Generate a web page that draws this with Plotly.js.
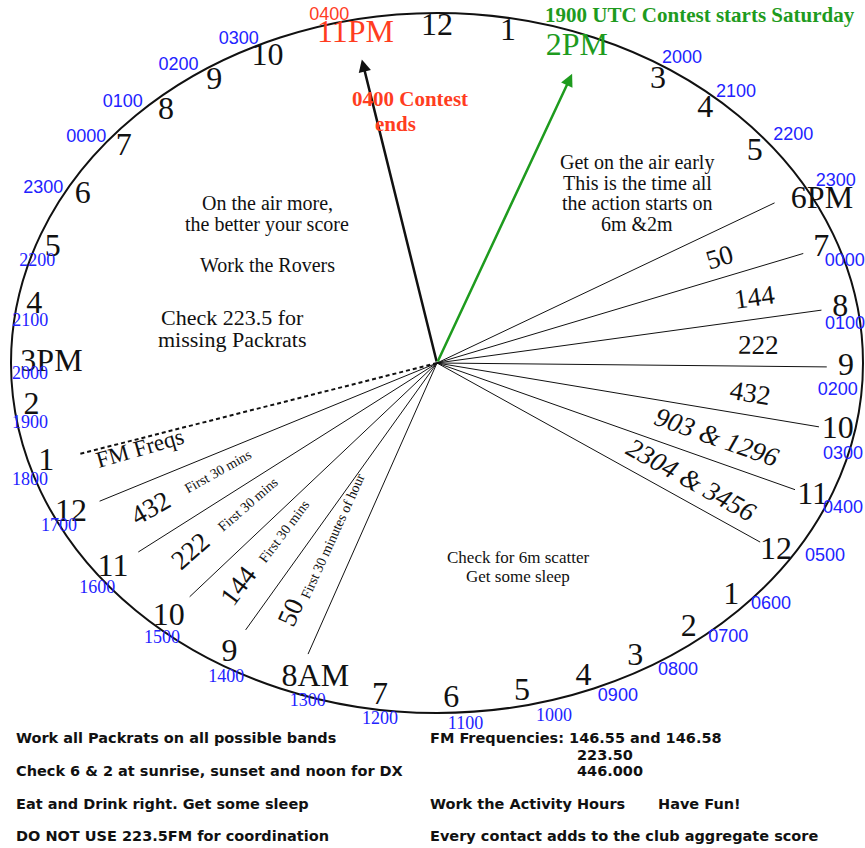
<!DOCTYPE html>
<html><head><meta charset="utf-8">
<script src="https://cdn.plot.ly/plotly-3.0.1.min.js"></script>
<style>html,body{margin:0;padding:0;background:#fff}</style>
</head><body><div id="chart" style="width:865px;height:848px"></div>
<script>
// ---------------- data ----------------
const hourIndex = [0,1,2,3,4,5,6,7,8,9,10,11,12,13,14,15,16,17,18,19,20,21,22,23,24,25,26,27,28,29,30,31,32,33,34,35];
const hourLabels = ['12','1','2PM','3','4','5','6PM','7','8','9','10','11','12','1','2','3','4','5','6','7','8AM','9','10','11','12','1','2','3PM','4','5','6','7','8','9','10','11PM'];
const utcLabels = [null,null,null,'2000','2100','2200','2300','0000','0100','0200','0300','0400','0500','0600','0700','0800','0900','1000','1100','1200','1300','1400','1500','1600','1700','1800','1900','2000','2100','2200','2300','0000','0100','0200','0300','0400'];
const contestStartHour = 2;   // 2PM local = 1900 UTC
const contestEndHour = 35;    // 11PM local = 0400 UTC
const rightBandLines = [6,7,8,9,10,11,12];
const rightBands = ['50','144','222','432','903 & 1296','2304 & 3456'];
const leftBandLines = [20,21,22,23,24];
const leftBands = ['50','144','222','432'];
const leftNotes = ['First 30 minutes of hour','First 30 mins','First 30 mins','First 30 mins'];
const fmLineHour = 25;
const fmLabel = 'FM Freqs';
const startText = '1900 UTC Contest starts Saturday';
const endLines = ['0400 Contest','ends'];
const blockActive = ['On the air more,','the better your score'];
const blockRovers = ['Work the Rovers'];
const blockCheck = ['Check 223.5 for','missing Packrats'];
const blockEarly = ['Get on the air early','This is the time all','the action starts on','6m &2m'];
const blockNight = ['Check for 6m scatter','Get some sleep'];
const notesLeft = ['Work all Packrats on all possible bands','Check 6 & 2 at sunrise, sunset and noon for DX','Eat and Drink right. Get some sleep','DO NOT USE 223.5FM for coordination'];
const notesRight = ['FM Frequencies: 146.55 and 146.58','Work the Activity Hours','Every contact adds to the club aggregate score'];
const fmFreqExtra = ['223.50','446.000'];
const haveFun = 'Have Fun!';

// ---------------- geometry / style (hand-drawn dial calibration) ----------------
const CX = 437, CY = 363, RX = 426, RY = 350;
const SERIF = 'Liberation Serif, Times New Roman, serif';
const SANS = 'Liberation Sans, Arial, sans-serif';
const GREEN = '#1e9b1e', RED = '#ff3d1f', BLUE = '#2222ff', INK = '#111';
const dialNudge = [0,0,0,2.7,1,1,0,0,0.5,0.7,1.5,3.3,4,4,2,1,-1,-2,-2,-2,0,0.5,1,2.4,3.5,2.8,2.6,1,0,0,0,0,-1.5,-3,-4.5,-1.5];
const labelFix = {6:[2.7,1.017], 20:[-2.4,0.944], 27:[0,0.905]};
const utcNudge = [0,0,0,3.5,2.2,2.1,1,3.2,3.5,4.7,5.3,3.6,1.2,1.4,-1.1,-2.8,-4,-5.2,-3.7,-2.5,-2.6,-1.2,-0.6,1.1,2.3,0.7,-0.3,-1.9,-3,-2.9,-1.6,-2,-4.8,-5.5,-6.7,-4.3];
const utcRad = [1,1,1,1.042,1.045,1.06,1.07,1.0,0.964,0.944,0.988,1.04,1.065,1.045,1.04,1.044,1.044,1.048,1.036,1.026,1.015,1.027,1.017,1.025,1.002,1.012,0.971,0.956,0.962,0.982,1.051,1.045,1.047,1.045,1.036,1.025];
function pt(deg, r) { const t = deg*Math.PI/180; return [CX + r*RX*Math.sin(t), CY - r*RY*Math.cos(t)]; }
const dialAngle = i => i*10 + dialNudge[i];
function lineAngle(p) { let a = Math.atan2(p[1]-CY, p[0]-CX)*180/Math.PI; if (a > 90) a -= 180; if (a < -90) a += 180; return a; }

const traces = [];
// band lines
function segs(list, r) { const x=[], y=[]; list.forEach(i => { const p = pt(dialAngle(i), r); x.push(CX, p[0], null); y.push(CY, p[1], null); }); return {x, y}; }
const rs = segs(rightBandLines, 0.915), ls = segs(leftBandLines, 0.885), fs = segs([fmLineHour], 0.88);
traces.push({type:'scatter', mode:'lines', x: rs.x.concat(ls.x), y: rs.y.concat(ls.y), line:{color:INK, width:1}, hoverinfo:'skip'});
traces.push({type:'scatter', mode:'lines', x: fs.x, y: fs.y, line:{color:INK, width:2, dash:'4px,3px'}, hoverinfo:'skip'});

// hour labels
const hx=[], hy=[], hcol=[];
hourIndex.forEach(i => { const f = labelFix[i]; const p = f ? pt(i*10 + f[0], f[1]) : pt(dialAngle(i), 0.96); hx.push(p[0]); hy.push(p[1]);
  hcol.push(i === contestStartHour ? GREEN : i === contestEndHour ? RED : INK); });
traces.push({type:'scatter', mode:'text', x:hx, y:hy, text:hourLabels, textposition:'middle center', textfont:{family:SERIF, size:32, color:hcol}, hoverinfo:'skip'});

// UTC labels
const ux=[], uy=[], ut=[], uc=[], uf=[];
hourIndex.forEach((i,k) => { if (!utcLabels[k]) return; const p = pt(i*10 + utcNudge[i], utcRad[i]); ux.push(p[0]); uy.push(p[1]); ut.push(utcLabels[k]);
  uc.push(i === contestEndHour ? RED : BLUE); uf.push((i >= 17 && i <= 29) ? SERIF : SANS); });
traces.push({type:'scatter', mode:'text', x:ux, y:uy, text:ut, textposition:'middle center', textfont:{family:uf, size:18, color:uc}, hoverinfo:'skip'});

const ann = [];
// arrows
[[contestEndHour, INK],[contestStartHour, GREEN]].forEach(([i,c]) => { const p = pt(dialAngle(i) + (i === contestStartHour ? 1 : 0), 0.885);
  ann.push({x:p[0], y:p[1], xref:'x', yref:'y', ax:CX, ay:CY, axref:'x', ayref:'y', text:'', showarrow:true, arrowhead:2, arrowsize:1, arrowwidth:2.5, arrowcolor:c, standoff:0, startstandoff:0}); });

// right band labels
const rightR = [0.73,0.77,0.756,0.74,0.69,0.684];
rightBands.forEach((t,k) => { const a = (dialAngle(rightBandLines[k]) + dialAngle(rightBandLines[k+1]))/2 + 0.5; const p = pt(a, rightR[k]);
  const rot = lineAngle(pt(dialAngle(rightBandLines[k+1]), 0.9));
  ann.push({x:p[0], y:p[1], xref:'x', yref:'y', text: k >= 4 ? '<i>'+t+'</i>' : t, showarrow:false, textangle: rot, font:{family:SERIF, size:27, color:INK}}); });
// left band labels + notes
leftBands.forEach((t,k) => { const a = (dialAngle(leftBandLines[k]) + dialAngle(leftBandLines[k+1]))/2 + 0.5;
  const p = pt(a, 0.79); const rot = lineAngle(p)*1.1;
  ann.push({x:p[0], y:p[1], xref:'x', yref:'y', text:t, showarrow:false, textangle: rot, font:{family:SERIF, size:27, color:INK}});
  const q = pt(a + 0.5, k === 0 ? 0.55 : 0.6); ann.push({x:q[0], y:q[1], xref:'x', yref:'y', text:leftNotes[k], showarrow:false, textangle: rot, font:{family:SERIF, size:14, color:INK}}); });
{ const p = pt((dialAngle(fmLineHour) + dialAngle(24))/2 + 2.5, 0.74); ann.push({x:p[0], y:p[1], xref:'x', yref:'y', text:fmLabel, showarrow:false, textangle: lineAngle(p), font:{family:SERIF, size:23, color:INK}}); }

// text blocks inside dial (one annotation per line)
function block(x, y0, dy, lines, size, color, bold, xs) {
  lines.forEach((t,k) => ann.push({x: xs ? xs[k] : x, y: y0 + k*dy, xref:'x', yref:'y', text: bold ? '<b>'+t+'</b>' : t, showarrow:false, xanchor:'center', yanchor:'middle', font:{family:SERIF, size, color}}));
}
block(267, 203, 21.5, blockActive, 20, INK);
block(267, 265, 0, blockRovers, 20, INK);
block(232, 317, 22, blockCheck, 22, INK);
block(637, 162, 20.7, blockEarly, 20, INK);
block(518, 557, 19.5, blockNight, 17, INK);
block(409, 99, 25, endLines, 21, RED, true, [410, 395]);
ann.push({x:543, y:15, xref:'x', yref:'y', text:'<b>'+startText+'</b>', showarrow:false, xanchor:'left', yanchor:'middle', font:{family:SERIF, size:21, color:GREEN}});

// bottom notes
const rowsY = [738, 771, 804, 836];
function note(x, y, t) { ann.push({x, y, xref:'x', yref:'y', text:'<b>'+t+'</b>', showarrow:false, xanchor:'left', yanchor:'middle', font:{family:'DejaVu Sans, Liberation Sans, sans-serif', size:14.5, color:INK}}); }
notesLeft.forEach((t,k) => note(14, rowsY[k], t));
note(428, rowsY[0], notesRight[0]);
note(575, 755, fmFreqExtra[0]);
note(575, rowsY[1], fmFreqExtra[1]);
note(428, rowsY[2], notesRight[1]);
note(656, rowsY[2], haveFun);
note(428, rowsY[3], notesRight[2]);

const layout = {
  width:865, height:848, margin:{l:0,r:0,t:0,b:0}, paper_bgcolor:'#fff', plot_bgcolor:'#fff', showlegend:false, hovermode:false,
  xaxis:{range:[0,865], visible:false, fixedrange:true},
  yaxis:{range:[848,0], visible:false, fixedrange:true},
  shapes:[{type:'circle', xref:'x', yref:'y', x0:CX-RX, x1:CX+RX, y0:CY-RY, y1:CY+RY, line:{color:INK, width:2}, layer:'below'}],
  annotations: ann
};
Plotly.newPlot('chart', traces, layout, {staticPlot:true, displayModeBar:false});
</script></body></html>
